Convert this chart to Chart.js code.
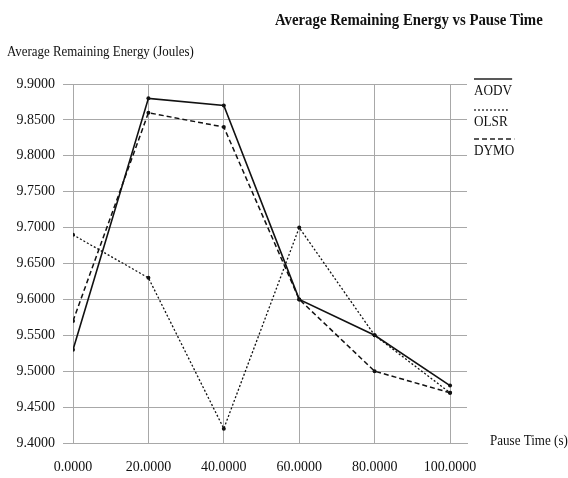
<!DOCTYPE html>
<html>
<head>
<meta charset="utf-8">
<script src="https://cdn.jsdelivr.net/npm/chart.js@4"></script>
<style>
  html, body { margin: 0; padding: 0; background: #fff; }
  #wrap { width: 568px; height: 478px; position: relative; }
</style>
</head>
<body>
<div id="wrap"><canvas id="energyChart"></canvas></div>
<script>
const pauseTimes = [0, 20, 40, 60, 80, 100];
const aodv = [9.53, 9.88, 9.87, 9.60, 9.55, 9.48];
const olsr = [9.69, 9.63, 9.42, 9.70, 9.55, 9.47];
const dymo = [9.57, 9.86, 9.84, 9.60, 9.50, 9.47];
const seriesNames = ["AODV", "OLSR", "DYMO"];

const serif = "'Liberation Serif', 'Times New Roman', serif";
const gridColor = "#a8a8a8";

function toPoints(values) {
  return pauseTimes.map((t, i) => ({ x: t, y: values[i] }));
}

const lineStyles = [[], [2, 2], [5, 3]];
const lineWidths = [1.6, 1.3, 1.5];

// the reference uses a narrow serif, so squeeze text horizontally
function narrowText(c, text, x, y, font, sx) {
  c.save();
  c.font = font;
  c.translate(x, y);
  c.scale(sx, 1);
  c.fillText(text, 0, 0);
  const w = c.measureText(text).width * sx;
  c.restore();
  return w;
}

const textPlugin = {
  id: "texts",
  afterDraw(chart) {
    const c = chart.ctx;
    c.save();
    c.fillStyle = "#111";
    c.textBaseline = "middle";
    c.textAlign = "left";

    narrowText(c, "Average Remaining Energy vs Pause Time", 275, 21, "bold 17px " + serif, 0.87);
    narrowText(c, "Average Remaining Energy (Joules)", 7, 52, "15px " + serif, 0.86);
    narrowText(c, "Pause Time (s)", 490, 441, "15px " + serif, 0.87);

    const legendY = [91, 122, 151];
    seriesNames.forEach((name, i) => {
      c.fillStyle = "#111";
      const w = narrowText(c, name, 474, legendY[i], "15px " + serif, 0.88);
      c.beginPath();
      c.strokeStyle = "#222";
      c.lineWidth = 1.3;
      c.setLineDash(lineStyles[i]);
      c.moveTo(474, legendY[i] - 12);
      c.lineTo(474 + w, legendY[i] - 12);
      c.stroke();
    });
    c.restore();
  }
};

const datasets = [aodv, olsr, dymo].map((vals, i) => ({
  label: seriesNames[i],
  data: toPoints(vals),
  borderColor: "#111",
  backgroundColor: "#111",
  borderWidth: lineWidths[i],
  borderDash: lineStyles[i],
  pointRadius: 2,
  pointBorderWidth: 0,
  pointBackgroundColor: "#111",
  tension: 0,
}));

new Chart(document.getElementById("energyChart"), {
  type: "line",
  data: { datasets: datasets },
  options: {
    responsive: true,
    maintainAspectRatio: false,
    animation: false,
    layout: { padding: { left: 0, right: 101, top: 84, bottom: 0 } },
    plugins: {
      legend: { display: false },
      tooltip: { enabled: false },
    },
    scales: {
      x: {
        type: "linear",
        min: 0,
        max: 104.5,
        afterBuildTicks(scale) {
          scale.ticks = pauseTimes.map((v) => ({ value: v }));
        },
        afterFit(scale) {
          scale.height = 35;
        },
        grid: { color: gridColor, drawTicks: false, lineWidth: 1 },
        border: { color: gridColor },
        ticks: {
          padding: 16,
          color: "#111",
          font: { family: serif, size: 14 },
          callback: (v) => Number(v).toFixed(4),
          maxRotation: 0,
        },
      },
      y: {
        min: 9.4,
        max: 9.9,
        afterFit(scale) {
          scale.width = 73;
        },
        grid: { color: gridColor, tickLength: 10, lineWidth: 1 },
        border: { color: gridColor },
        ticks: {
          stepSize: 0.05,
          padding: 8,
          color: "#111",
          font: { family: serif, size: 14 },
          callback: (v) => Number(v).toFixed(4),
        },
      },
    },
  },
  plugins: [textPlugin],
});
</script>
</body>
</html>
